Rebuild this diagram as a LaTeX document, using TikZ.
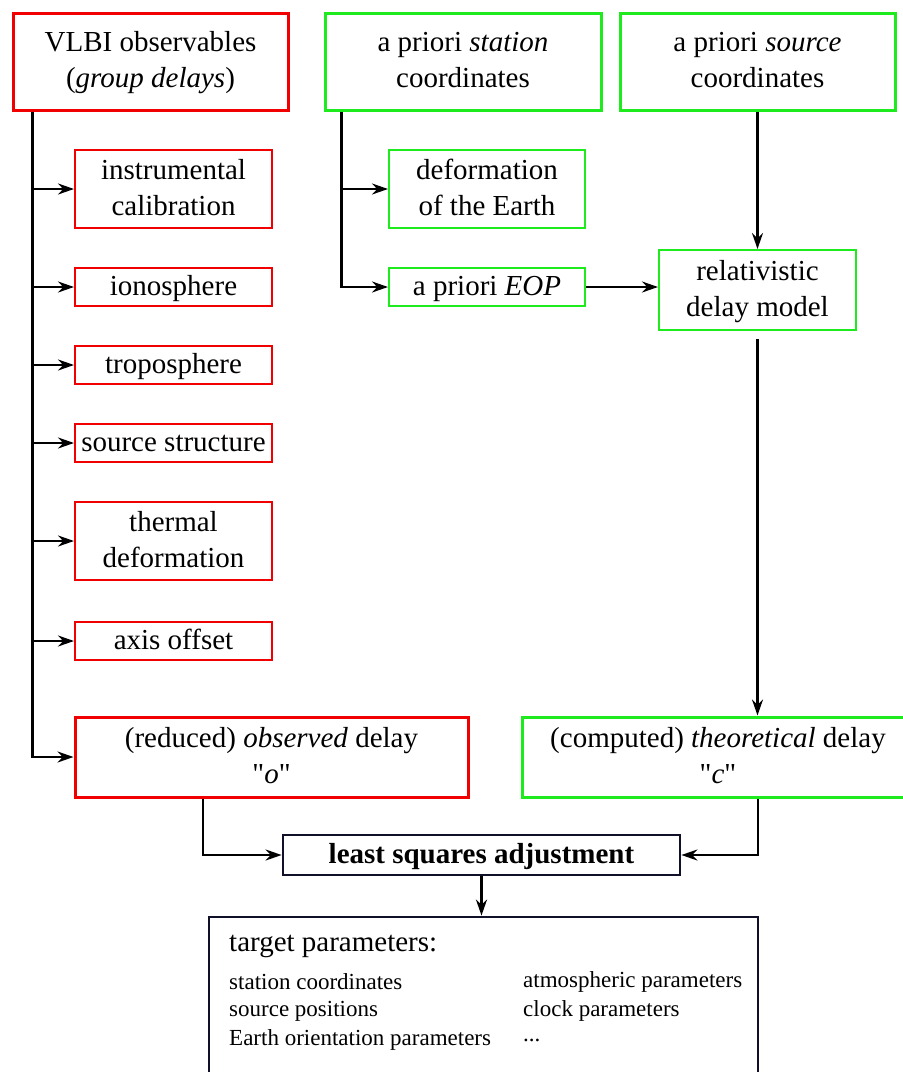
\documentclass[tikz,border=0pt]{standalone}
\usepackage{fontspec}
\setmainfont{Liberation Serif}
\newfontfamily\qfont{Liberation Serif}[Ligatures=ResetAll]
\usetikzlibrary{arrows.meta}
\definecolor{bred}{RGB}{240,0,0}
\definecolor{bgreen}{RGB}{30,235,30}
\definecolor{navy}{RGB}{16,16,40}
\newcommand{\dq}{{\qfont\char34}}
\newcommand{\dstrut}{\rule[-6.5pt]{0pt}{6.5pt}}
\newcommand{\ustrut}{\rule{0pt}{22.5pt}}
\begin{document}
\begin{tikzpicture}[x=1pt,y=-1pt,
  txt/.style={font=\fontsize{29}{36}\selectfont, align=center, inner sep=0pt},
  one/.style={text height=22.5pt, text depth=6.3pt},
  mainred/.style={txt, draw=bred, line width=3pt},
  subred/.style={txt, draw=bred, line width=2pt, minimum width=197pt},
  maingreen/.style={txt, draw=bgreen, line width=3pt},
  subgreen/.style={txt, draw=bgreen, line width=2pt, minimum width=196pt},
  darkbox/.style={txt, draw=navy, line width=2.8pt},
  arr/.style={line width=2.4pt, -{Stealth[length=16pt,width=11pt]}},
  small/.style={font=\fontsize{23}{29}\selectfont, anchor=west, inner sep=0pt}
]
\useasboundingbox (0,0) rectangle (903,1072);
\clip (0,0) rectangle (903,1072);
% top row
\node[mainred, minimum width=275pt, minimum height=97pt] (vlbi) at (150.5,61.5)
  {\ustrut VLBI observables\\(\textit{group delays})\dstrut};
\node[maingreen, minimum width=276pt, minimum height=97pt] (station) at (463,61.5)
  {\ustrut a priori \textit{station}\\coordinates\dstrut};
\node[maingreen, minimum width=275pt, minimum height=97pt] (source) at (757.5,61.5)
  {\ustrut a priori \textit{source}\\coordinates\dstrut};
% red corrections
\node[subred, minimum height=78pt] (instr) at (173.5,189) {\ustrut instrumental\\calibration\dstrut};
\node[subred, one, minimum height=38pt] (iono) at (173.5,287) {ionosphere};
\node[subred, one, minimum height=38pt] (tropo) at (173.5,365) {troposphere};
\node[subred, one, minimum height=38pt] (srcst) at (173.5,443) {source structure};
\node[subred, minimum height=78pt] (therm) at (173.5,541) {\ustrut thermal\\deformation\dstrut};
\node[subred, one, minimum height=38pt] (axis) at (173.5,641) {axis offset};
\node[mainred, minimum width=393pt, minimum height=80pt] (obs) at (271.5,757)
  {\ustrut (reduced) \textit{observed} delay\\\dq\textit{o}\dq\dstrut};
% green
\node[subgreen, minimum height=78pt] (deform) at (487,189) {\ustrut deformation\\of the Earth\dstrut};
\node[subgreen, one, minimum height=38pt] (eop) at (487,287) {a priori \textit{EOP}};
\node[subgreen, minimum width=197pt, minimum height=80pt] (rel) at (757.5,290)
  {\ustrut relativistic\\delay model\dstrut};
\node[maingreen, minimum width=392pt, minimum height=80pt] (comp) at (718,757)
  {\ustrut (computed) \textit{theoretical} delay\\\dq\textit{c}\dq\dstrut};
% bottom
\node[darkbox, one, minimum width=397pt, minimum height=40pt] (lsq) at (481.5,855)
  {\textbf{least squares adjustment}};
\node[darkbox, minimum width=549pt, minimum height=190pt] (target) at (483.5,1012) {};
\node[txt, one, anchor=west] (tp) at (229,943) {target parameters:};
\node[small] (p1) at (229,982) {station coordinates};
\node[small] (p2) at (229,1011) {source positions};
\node[small] (p3) at (229,1040) {Earth orientation parameters};
\node[small] (p4) at (523,982) {atmospheric parameters};
\node[small] (p5) at (523,1011) {clock parameters};
\node[small] (p6) at (523,1040) {.{}.{}.};
% trunks
\coordinate (t1) at ([xshift=21pt]vlbi.south west);
\coordinate (t2) at ([xshift=18pt]station.south west);
\draw[arr] (t1) |- (obs.west);
\foreach \n in {instr,iono,tropo,srcst,therm,axis}
  \draw[arr] (t1 |- \n.west) -- (\n.west);
\draw[arr] (t2) |- (eop.west);
\draw[arr] (t2 |- deform.west) -- (deform.west);
\draw[arr] (eop.east) -- (eop.east -| rel.west);
\draw[arr] (source.south) -- (rel.north);
\draw[arr] ([yshift=-8pt]rel.south) -- (rel.south |- comp.north);
\draw[arr] ([xshift=-68.5pt]obs.south) |- (lsq.west);
\draw[arr] ([xshift=40pt]comp.south) |- (lsq.east);
\draw[arr] (lsq.south) -- (lsq.south |- target.north);
\end{tikzpicture}
\end{document}
